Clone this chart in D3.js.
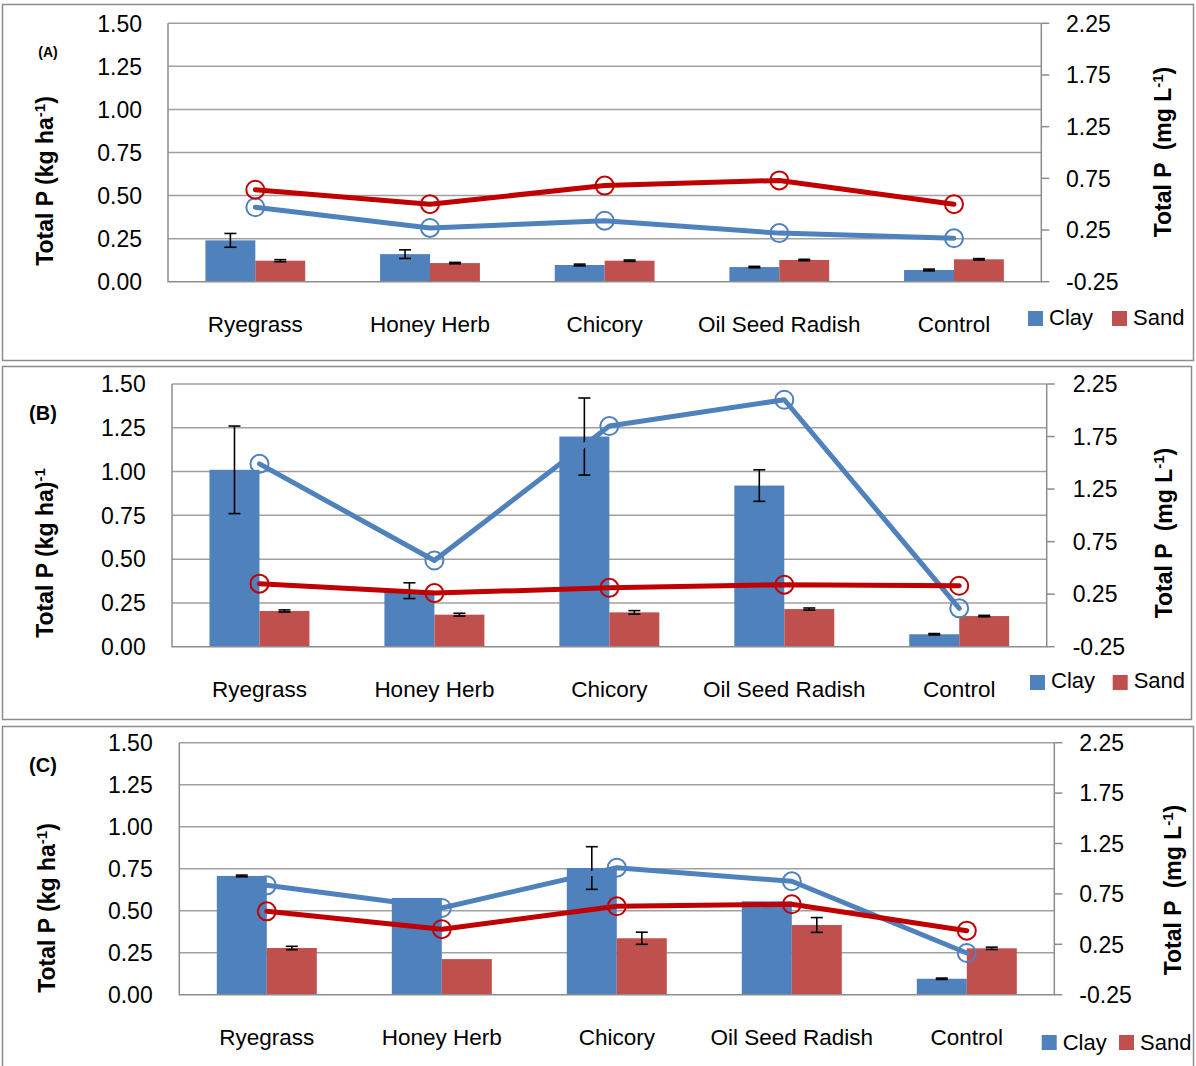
<!DOCTYPE html>
<html>
<head>
<meta charset="utf-8">
<script src="https://cdn.jsdelivr.net/npm/d3@7"></script>
<style>
  html, body { margin: 0; padding: 0; background: #ffffff; }
  svg { display: block; }
  text { font-family: "Liberation Sans", Arial, sans-serif; fill: #000; }
</style>
</head>
<body>
<svg id="chart" width="1196" height="1066"></svg>
<script>
// ---------------- DATA ----------------
const categories = ["Ryegrass", "Honey Herb", "Chicory", "Oil Seed Radish", "Control"];
const seriesNames = ["Clay", "Sand"];
const leftTicks = [0, 0.25, 0.5, 0.75, 1.0, 1.25, 1.5];
const rightTicks = [-0.25, 0.25, 0.75, 1.25, 1.75, 2.25];

// Panel A (bars: kg ha-1, left axis; lines: mg L-1, right axis)
const clayBarA = [0.24, 0.16, 0.097, 0.085, 0.068];
const clayErrA = [0.04, 0.025, 0.005, 0.004, 0.005];
const sandBarA = [0.122, 0.108, 0.122, 0.126, 0.130];
const sandErrA = [0.006, 0.004, 0.004, 0.004, 0.004];
const clayLineA = [0.47, 0.27, 0.34, 0.22, 0.17];
const sandLineA = [0.64, 0.50, 0.68, 0.73, 0.50];

// Panel B
const clayBarB = [1.01, 0.32, 1.20, 0.92, 0.071];
const clayErrB = [0.25, 0.045, 0.22, 0.09, 0.004];
const sandBarB = [0.204, 0.183, 0.196, 0.215, 0.175];
const sandErrB = [0.006, 0.008, 0.01, 0.006, 0.004];
const clayLineB = [1.49, 0.57, 1.85, 2.10, 0.115];
const sandLineB = [0.35, 0.26, 0.31, 0.34, 0.33];

// Panel C
const clayBarC = [0.707, 0.576, 0.754, 0.556, 0.095];
const clayErrC = [0.005, 0, 0.127, 0, 0.004];
const sandBarC = [0.278, 0.212, 0.336, 0.415, 0.276];
const sandErrC = [0.01, 0, 0.036, 0.044, 0.007];
const clayLineC = [0.835, 0.61, 1.01, 0.875, 0.164];
const sandLineC = [0.577, 0.40, 0.627, 0.647, 0.385];

// ---------------- LAYOUT ----------------
const colors = { clayBar: "#4F81BD", sandBar: "#C0504D", clayLine: "#4F81BD", sandLine: "#C00000" };

const panels = [
  {
    tag: "(A)", tagX: 48, tagY: 52, tagSize: 14,
    border: [2, 4, 1191, 356],
    plot: { l: 168, t: 23.3, r: 1041.3, b: 281.7 },
    leftLabelX: 142, rightLabelX: 1066, catBase: 332,
    legend: { clayX: 1028, sandX: 1112, swY: 311, base: 325 },
    yTitle: { x: 45, y: 181, type: "a" }, rTitle: { x: 1163, y: 152 },
    clayBar: clayBarA, clayErr: clayErrA, sandBar: sandBarA, sandErr: sandErrA,
    clayLine: clayLineA, sandLine: sandLineA
  },
  {
    tag: "(B)", tagX: 43, tagY: 413, tagSize: 20,
    border: [2, 366, 1189, 353],
    plot: { l: 172, t: 384, r: 1046.7, b: 646.7 },
    leftLabelX: 145.7, rightLabelX: 1072.7, catBase: 697,
    legend: { clayX: 1030, sandX: 1112.7, swY: 675, base: 688 },
    yTitle: { x: 45, y: 553, type: "b" }, rTitle: { x: 1164, y: 533 },
    clayBar: clayBarB, clayErr: clayErrB, sandBar: sandBarB, sandErr: sandErrB,
    clayLine: clayLineB, sandLine: sandLineB
  },
  {
    tag: "(C)", tagX: 43, tagY: 765, tagSize: 20,
    border: [2, 726, 1191, 345],
    plot: { l: 179.3, t: 742.7, r: 1054.3, b: 994.7 },
    leftLabelX: 152.7, rightLabelX: 1079.3, catBase: 1044.7,
    legend: { clayX: 1041.7, sandX: 1119, swY: 1035, base: 1050 },
    yTitle: { x: 47, y: 908, type: "a" }, rTitle: { x: 1172.7, y: 890 },
    clayBar: clayBarC, clayErr: clayErrC, sandBar: sandBarC, sandErr: sandErrC,
    clayLine: clayLineC, sandLine: sandLineC
  }
];

const svg = d3.select("#chart");
const fmt = d3.formatLocale({ decimal: ".", thousands: ",", grouping: [3], currency: ["", ""], minus: "-" }).format(".2f");

panels.forEach(p => {
  const g = svg.append("g");
  // panel border
  g.append("rect")
    .attr("x", p.border[0] + 0.5).attr("y", p.border[1] + 0.5)
    .attr("width", p.border[2]).attr("height", p.border[3])
    .attr("fill", "#fff").attr("stroke", "#8c8c8c").attr("stroke-width", 1.5);

  const { l, t, r, b } = p.plot;
  const yL = d3.scaleLinear().domain([0, 1.5]).range([b, t]);
  const yR = d3.scaleLinear().domain([-0.25, 2.25]).range([b, t]);
  const x0 = d3.scaleBand().domain(categories).range([l, r])
    .paddingInner(3 / 7).paddingOuter(1.5 / 7);
  const x1 = d3.scaleBand().domain(seriesNames).range([0, x0.bandwidth()]);
  const cx = c => x0(c) + x0.bandwidth() / 2;

  // gridlines
  g.append("g").selectAll("line").data(leftTicks.filter(v => v > 0)).join("line")
    .attr("x1", l).attr("x2", r).attr("y1", d => yL(d)).attr("y2", d => yL(d))
    .attr("stroke", "#a0a0a0").attr("stroke-width", 1.5);

  // left tick labels
  g.append("g").selectAll("text").data(leftTicks).join("text")
    .attr("x", p.leftLabelX).attr("y", d => yL(d)).attr("dy", "0.36em")
    .attr("text-anchor", "end").style("font-size", "23px").text(d => fmt(d));

  // right axis ticks and labels
  g.append("g").selectAll("line").data(rightTicks).join("line")
    .attr("x1", r).attr("x2", r + 8).attr("y1", d => yR(d)).attr("y2", d => yR(d))
    .attr("stroke", "#8c8c8c").attr("stroke-width", 1.5);
  g.append("g").selectAll("text").data(rightTicks).join("text")
    .attr("x", p.rightLabelX).attr("y", d => yR(d)).attr("dy", "0.36em")
    .attr("text-anchor", "start").style("font-size", "23px").text(d => fmt(d));

  // bars
  const barData = categories.map((c, i) => [
    { cat: c, s: "Clay", v: p.clayBar[i], e: p.clayErr[i], color: colors.clayBar },
    { cat: c, s: "Sand", v: p.sandBar[i], e: p.sandErr[i], color: colors.sandBar }
  ]).flat();
  g.append("g").selectAll("rect").data(barData).join("rect")
    .attr("x", d => x0(d.cat) + x1(d.s)).attr("width", x1.bandwidth())
    .attr("y", d => yL(d.v)).attr("height", d => yL(0) - yL(d.v))
    .attr("fill", d => d.color);

  // error bars
  const eb = g.append("g").selectAll("g").data(barData.filter(d => d.e > 0)).join("g")
    .attr("stroke", "#000").attr("stroke-width", 1.6);
  const ex = d => x0(d.cat) + x1(d.s) + x1.bandwidth() / 2;
  eb.append("line").attr("x1", ex).attr("x2", ex)
    .attr("y1", d => yL(d.v + d.e)).attr("y2", d => yL(d.v - d.e));
  eb.append("line").attr("x1", d => ex(d) - 6).attr("x2", d => ex(d) + 6)
    .attr("y1", d => yL(d.v + d.e)).attr("y2", d => yL(d.v + d.e));
  eb.append("line").attr("x1", d => ex(d) - 6).attr("x2", d => ex(d) + 6)
    .attr("y1", d => yL(d.v - d.e)).attr("y2", d => yL(d.v - d.e));

  // axis lines (left, bottom, right)
  g.append("path")
    .attr("d", `M${l},${t}V${b}H${r}V${t}`)
    .attr("fill", "none").attr("stroke", "#8c8c8c").attr("stroke-width", 1.5);

  // lines
  const lineGen = d3.line().x((d, i) => cx(categories[i])).y(d => yR(d));
  [[p.clayLine, colors.clayLine], [p.sandLine, colors.sandLine]].forEach(([vals, col]) => {
    g.append("path").datum(vals).attr("d", lineGen)
      .attr("fill", "none").attr("stroke", col).attr("stroke-width", 5)
      .attr("stroke-linejoin", "round").attr("stroke-linecap", "round");
  });
  [[p.clayLine, colors.clayLine], [p.sandLine, colors.sandLine]].forEach(([vals, col]) => {
    g.append("g").selectAll("circle").data(vals).join("circle")
      .attr("cx", (d, i) => cx(categories[i])).attr("cy", d => yR(d)).attr("r", 9)
      .attr("fill", "none").attr("stroke", col).attr("stroke-width", 2);
  });

  // category labels
  g.append("g").selectAll("text").data(categories).join("text")
    .attr("x", d => cx(d)).attr("y", p.catBase)
    .attr("text-anchor", "middle").style("font-size", "22.5px").text(d => d);

  // legend
  const lg = p.legend;
  [["Clay", colors.clayBar, lg.clayX], ["Sand", colors.sandBar, lg.sandX]].forEach(([name, col, xx]) => {
    g.append("rect").attr("x", xx).attr("y", lg.swY).attr("width", 15).attr("height", 15).attr("fill", col);
    g.append("text").attr("x", xx + 21).attr("y", lg.base).style("font-size", "22px").text(name);
  });

  // panel tag
  g.append("text").attr("x", p.tagX).attr("y", p.tagY).attr("dy", "0.36em")
    .attr("text-anchor", "middle").style("font-size", p.tagSize + "px").style("font-weight", "bold")
    .text(p.tag);

  // left axis title
  const yt = g.append("text")
    .attr("transform", `translate(${p.yTitle.x},${p.yTitle.y}) rotate(-90)`)
    .attr("text-anchor", "middle").attr("dy", "0.36em")
    .style("font-size", "23px").style("font-weight", "bold");
  if (p.yTitle.type === "a") {
    yt.append("tspan").text("Total P (kg ha");
    yt.append("tspan").attr("baseline-shift", "super").style("font-size", "15px").text("-1");
    yt.append("tspan").text(")");
  } else {
    yt.append("tspan").text("Total P (kg ha)");
    yt.append("tspan").attr("baseline-shift", "super").style("font-size", "15px").text("-1");
  }

  // right axis title
  const rt = g.append("text")
    .attr("transform", `translate(${p.rTitle.x},${p.rTitle.y}) rotate(-90)`)
    .attr("text-anchor", "middle").attr("dy", "0.36em")
    .style("font-size", "23px").style("font-weight", "bold");
  rt.append("tspan").text("Total P");
  rt.append("tspan").attr("dx", 12).text("(mg L");
  rt.append("tspan").attr("baseline-shift", "super").style("font-size", "15px").text("-1");
  rt.append("tspan").text(")");
});
</script>
</body>
</html>
